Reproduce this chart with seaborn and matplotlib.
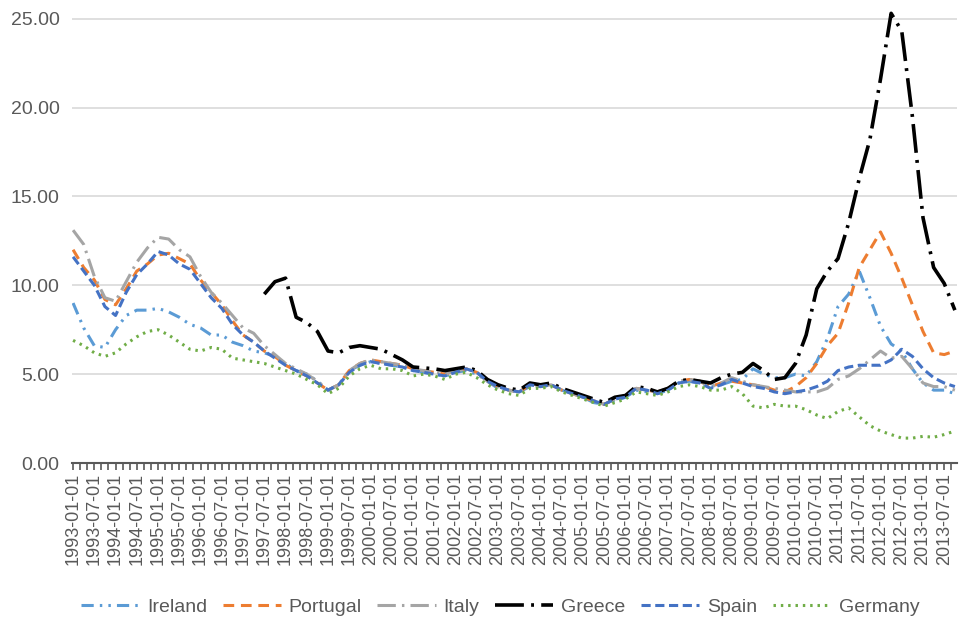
import numpy as np
import pandas as pd
import matplotlib
matplotlib.use("Agg")
import matplotlib.pyplot as plt
from matplotlib.ticker import MultipleLocator, FormatStrFormatter
import seaborn as sns

# quarterly readings, 1993-01 .. 2013-10 (84 points)
ireland = [9.0, 7.6, 6.6, 6.5, 7.5, 8.3, 8.6, 8.6, 8.7, 8.5, 8.2, 7.8, 7.6, 7.2, 7.2, 6.8, 6.6, 6.3, 6.2, 6.0, 5.6, 5.2, 5.0, 4.6,
           4.1, 4.4, 5.2, 5.5, 5.7, 5.6, 5.5, 5.4, 5.2, 5.1, 5.0, 4.9, 5.1, 5.2, 5.0, 4.6, 4.2, 4.1, 4.0, 4.3, 4.3, 4.4, 4.1, 3.9,
           3.7, 3.4, 3.3, 3.5, 3.7, 4.1, 4.0, 3.9, 4.1, 4.5, 4.6, 4.5,
           4.3, 4.4, 4.6, 4.7, 5.3, 5.0, 4.8, 4.8, 5.0, 4.9, 5.7, 7.0, 8.8, 9.5, 10.8, 9.3, 7.7, 6.7, 6.3, 5.3, 4.5, 4.1, 4.1, 3.9]
portugal = [12.0, 11.0, 10.3, 9.2, 8.9, 9.8, 10.8, 11.2, 11.7, 11.8, 11.5, 11.2, 10.3, 9.6, 8.9, 8.0, 7.2, 6.8, 6.3, 6.0, 5.5, 5.2, 4.9, 4.5,
            4.1, 4.4, 5.2, 5.6, 5.8, 5.7, 5.6, 5.5, 5.3, 5.2, 5.1, 5.0, 5.2, 5.3, 5.1, 4.6, 4.3, 4.1, 4.0, 4.4, 4.3, 4.4, 4.1, 3.9,
            3.7, 3.5, 3.3, 3.6, 3.8, 4.2, 4.1, 4.0, 4.2, 4.6, 4.7, 4.6,
            4.3, 4.5, 4.6, 4.5, 4.4, 4.3, 4.1, 4.0, 4.3, 4.8, 5.6, 6.6, 7.3, 9.0, 11.0, 12.0, 13.0, 11.8, 10.4, 8.9, 7.4, 6.2, 6.1, 6.3]
italy = [13.1, 12.3, 10.5, 9.3, 9.1, 10.2, 11.3, 12.1, 12.7, 12.6, 12.0, 11.6, 10.5, 9.6, 9.0, 8.3, 7.6, 7.3, 6.6, 6.1, 5.6, 5.3, 5.0, 4.6,
         4.1, 4.4, 5.2, 5.6, 5.8, 5.7, 5.6, 5.5, 5.3, 5.2, 5.1, 5.0, 5.2, 5.3, 5.1, 4.6, 4.3, 4.1, 4.0, 4.4, 4.3, 4.4, 4.1, 3.9,
         3.7, 3.5, 3.3, 3.6, 3.8, 4.2, 4.1, 4.0, 4.2, 4.6, 4.7, 4.6,
         4.3, 4.5, 4.8, 4.6, 4.4, 4.3, 4.2, 4.1, 4.0, 4.0, 4.0, 4.2, 4.7, 4.9, 5.3, 5.8, 6.3, 5.9, 6.0, 5.3, 4.5, 4.3, 4.3, 4.1]
greece = [np.nan] * 18 + [9.5, 10.2, 10.4, 8.2, 7.9, 7.4,
          6.3, 6.2, 6.5, 6.6, 6.5, 6.4, 6.1, 5.8, 5.4, 5.35, 5.3, 5.2, 5.3, 5.4, 5.2,
          4.7, 4.4, 4.2, 4.1, 4.5, 4.4, 4.5, 4.2, 4.0, 3.8, 3.6, 3.4, 3.7, 3.8, 4.3, 4.2, 4.0, 4.2, 4.6, 4.7, 4.6,
          4.5, 4.8, 5.0, 5.1, 5.6, 5.2, 4.7, 4.8, 5.6, 7.2, 9.8, 10.8, 11.5, 13.5, 16.0, 18.2, 21.6, 25.3, 24.3, 19.5, 13.8, 11.0, 10.1, 8.6]
spain = [11.6, 10.8, 10.0, 8.8, 8.3, 9.6, 10.6, 11.2, 11.9, 11.7, 11.2, 10.9, 10.1, 9.3, 8.7, 7.8, 7.2, 6.8, 6.3, 5.9, 5.5, 5.2, 4.9, 4.5,
         4.1, 4.4, 5.1, 5.5, 5.7, 5.6, 5.5, 5.4, 5.2, 5.1, 5.0, 4.9, 5.1, 5.3, 5.1, 4.6, 4.3, 4.1, 4.0, 4.4, 4.3, 4.4, 4.1, 3.9,
         3.7, 3.5, 3.3, 3.6, 3.7, 4.2, 4.1, 3.9, 4.1, 4.5, 4.6, 4.5,
         4.2, 4.4, 4.7, 4.5, 4.3, 4.2, 4.0, 3.9, 4.0, 4.1, 4.3, 4.6, 5.2, 5.4, 5.5, 5.5, 5.5, 5.8, 6.4, 6.0, 5.3, 4.8, 4.5, 4.3]
germany = [6.9, 6.6, 6.2, 6.0, 6.2, 6.7, 7.1, 7.4, 7.5, 7.2, 6.8, 6.4, 6.3, 6.5, 6.4, 5.9, 5.8, 5.7, 5.6, 5.4, 5.2, 5.0, 4.7, 4.4,
           3.9, 4.2, 4.9, 5.3, 5.5, 5.3, 5.3, 5.2, 4.9, 5.0, 4.9, 4.7, 5.0, 5.1, 4.8, 4.4, 4.1, 3.9, 3.8, 4.2, 4.2, 4.3, 4.0, 3.8,
           3.6, 3.4, 3.2, 3.4, 3.6, 4.0, 3.9, 3.8, 4.0, 4.3, 4.4, 4.3,
           4.1, 4.1, 4.3, 3.9, 3.2, 3.1, 3.3, 3.2, 3.2, 3.0, 2.7, 2.5, 2.9, 3.1, 2.6, 2.1, 1.8, 1.6, 1.4, 1.4, 1.5, 1.45, 1.6, 1.8]

months = np.arange(len(spain)) * 3  # months since 1993-01
label_months = np.arange(0, 247, 6)
tick_labels = [f"{1993 + m // 12}-{m % 12 + 1:02d}-01" for m in label_months]

df = pd.DataFrame({"month": months, "Ireland": ireland, "Portugal": portugal, "Italy": italy,
                   "Greece": greece, "Spain": spain, "Germany": germany})

styles = {
    "Ireland": ("#5B9BD5", 2.2, (4, 2, 0.8, 2, 0.8, 2)),
    "Portugal": ("#ED7D31", 2.2, (3.5, 2.2)),
    "Italy": ("#A5A5A5", 2.2, (6, 2, 0.8, 2)),
    "Greece": ("#000000", 2.6, (8, 2, 0.8, 2)),
    "Spain": ("#4472C4", 2.2, (3, 1.5)),
    "Germany": ("#70AD47", 2.2, (0.8, 1.6)),
}

sns.set_style("white")
plt.rcParams["font.family"] = ["Liberation Sans", "DejaVu Sans"]
text_col = "#595959"

fig = plt.figure(figsize=(9.59, 6.26), dpi=100)
ax = fig.add_axes([72 / 959, 1 - 463 / 626, 885 / 959, 455 / 626])

for name, (col, lw, dash) in styles.items():
    sns.lineplot(data=df, x="month", y=name, ax=ax, color=col, linewidth=lw,
                 linestyle=(0, dash), label=name, errorbar=None)

ax.set_xlim(-0.3, 249.6)
ax.set_ylim(0, 25.6)
ax.yaxis.set_major_locator(MultipleLocator(5))
ax.yaxis.set_major_formatter(FormatStrFormatter("%.2f"))
ax.grid(axis="y", color="#D9D9D9", linewidth=1.2)
ax.set_axisbelow(True)

ax.set_xticks(label_months)
ax.set_xticklabels(tick_labels, rotation=90)
ax.xaxis.set_minor_locator(MultipleLocator(2))
ax.tick_params(axis="x", which="both", direction="out", length=5, width=1.2,
               color="#595959", bottom=True, labelsize=13, labelcolor=text_col, pad=2)
ax.tick_params(axis="y", length=0, labelsize=14, labelcolor=text_col, pad=9)
ax.set_xlabel("")
ax.set_ylabel("")

for side in ["top", "right", "left"]:
    ax.spines[side].set_visible(False)
ax.spines["bottom"].set_color("#595959")
ax.spines["bottom"].set_linewidth(1.5)

handles, labels = ax.get_legend_handles_labels()
ax.get_legend().remove()
leg = fig.legend(handles, labels, loc="center", bbox_to_anchor=(500 / 959, 1 - 607 / 626),
                 ncol=6, frameon=False, fontsize=14, handlelength=3.0, handletextpad=0.4,
                 columnspacing=0.8)
for t in leg.get_texts():
    t.set_color(text_col)

fig.savefig("out.png", dpi=100)
